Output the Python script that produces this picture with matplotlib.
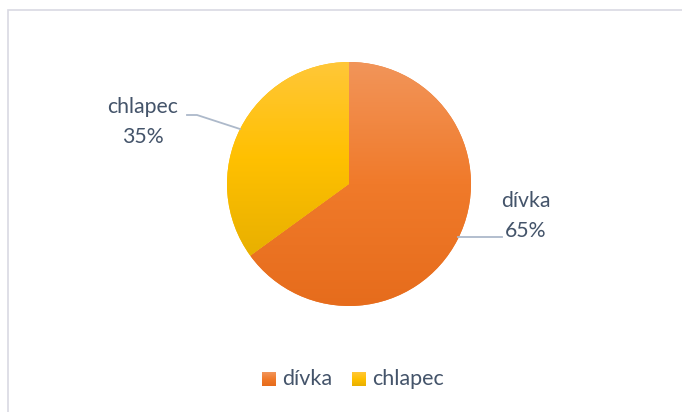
import matplotlib
matplotlib.use('Agg')
import matplotlib.pyplot as plt
import numpy as np
from matplotlib.colors import LinearSegmentedColormap
from matplotlib.patches import Rectangle

# Podíly pohlaví
labels = ['dívka', 'chlapec']
shares = [65, 35]

# Barvy přechodu (nahoře, uprostřed, dole)
grad_colors = [
    ['#F2955A', '#F07A2A', '#E66C1C'],
    ['#FFC738', '#FFC000', '#E8B000'],
]
base_colors = ['#ED7D31', '#FFC000']
text_color = '#44546A'

plt.rcParams['font.family'] = ['Lato', 'DejaVu Sans']

fig = plt.figure(figsize=(6.82, 4.12), dpi=100)
ax = fig.add_axes([0, 0, 1, 1])

# Rámeček grafu
ax.add_patch(Rectangle((7.5, -10), 700, 412, fill=False,
                       edgecolor='#D9D9E3', linewidth=1.2))

cx, cy, r = 349, 228, 122
wedges, _ = ax.pie(shares, colors=base_colors, startangle=90,
                   counterclock=False, center=(cx, cy), radius=r,
                   frame=True, wedgeprops=dict(linewidth=0))

# Svislý přechod v každé výseči
for w, cols in zip(wedges, grad_colors):
    verts = w.get_path().vertices
    ymin, ymax = verts[:, 1].min(), verts[:, 1].max()
    cmap = LinearSegmentedColormap.from_list('g', cols[::-1])
    grad = np.linspace(0, 1, 256).reshape(-1, 1)
    im = ax.imshow(grad, cmap=cmap, origin='lower', aspect='auto',
                   extent=(cx - r, cx + r, ymin, ymax), zorder=2)
    im.set_clip_path(w)

# Popisky s vodicími čarami
line_kw = dict(color='#ADB9CA', linewidth=1.3, zorder=3)
ax.plot([187, 197, 240], [412 - 115, 412 - 115, 412 - 129], **line_kw)
ax.plot([458, 502], [412 - 237, 412 - 237], **line_kw)

txt_kw = dict(fontsize=15.3, color=text_color, ha='center', va='center',
              linespacing=1.62)
ax.text(143, 412 - 122, f'{labels[1]}\n{shares[1]}%', **txt_kw)
ax.text(526, 412 - 216, f'{labels[0]}\n{shares[0]}%', **txt_kw)

# Legenda
leg_y = 412 - 379
items = [(262, 282, 0), (352, 372, 1)]
for sx, tx, i in items:
    cmap = LinearSegmentedColormap.from_list('g', grad_colors[i][::-1])
    ax.imshow(np.linspace(0, 1, 64).reshape(-1, 1), cmap=cmap, origin='lower',
              aspect='auto', extent=(sx, sx + 14, leg_y - 7, leg_y + 7), zorder=2)
    ax.text(tx, leg_y, labels[i], fontsize=15.5, color=text_color,
            ha='left', va='center')

ax.set_xlim(0, 682)
ax.set_ylim(0, 412)
ax.set_aspect('equal')
ax.axis('off')

fig.savefig('out.png', dpi=100)
